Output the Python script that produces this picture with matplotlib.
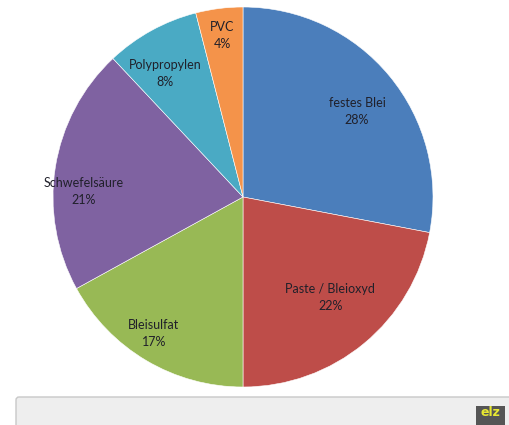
import matplotlib
matplotlib.use("Agg")
import matplotlib.pyplot as plt
from matplotlib.patches import FancyBboxPatch, Rectangle

labels = ["festes Blei", "Paste / Bleioxyd", "Bleisulfat", "Schwefelsäure", "Polypropylen", "PVC"]
shares = [28, 22, 17, 21, 8, 4]
colors = ["#4b7ebb", "#be4d49", "#98b955", "#7f62a1", "#4aaac4", "#f4934a"]

# label anchor points in pie-radius units (Excel "best fit" placement)
LABEL_POS = [(0.60, 0.45), (0.46, -0.53), (-0.47, -0.72),
             (-0.84, 0.03), (-0.41, 0.65), (-0.11, 0.85)]

W, H = 509, 425
fig = plt.figure(figsize=(W / 100, H / 100), dpi=100)
fig.patch.set_facecolor("white")

cx, cy, R = 243, 228, 190
ax = fig.add_axes([(cx - R) / W, (cy - R) / H, 2 * R / W, 2 * R / H])
wedges, _ = ax.pie(shares, colors=colors, startangle=90, counterclock=False,
                   radius=1.0, wedgeprops=dict(edgecolor="white", linewidth=0.4))
ax.set_xlim(-1, 1)
ax.set_ylim(-1, 1)
ax.set_aspect("equal")
ax.axis("off")

for lab, s, (lx, ly) in zip(labels, shares, LABEL_POS):
    ax.text(lx, ly, f"{lab}\n{s}%", ha="center", va="center",
            fontsize=9, family="Lato", color="#20202a", linespacing=1.5)

# bottom toolbar strip
bx = fig.add_axes([0, 0, 1, 1], facecolor="none")
bx.set_xlim(0, W)
bx.set_ylim(H, 0)
bx.axis("off")
bx.add_patch(FancyBboxPatch((16, 397), 500, 40, boxstyle="round,pad=0,rounding_size=3",
                            facecolor="#eeeeee", edgecolor="#c8c8c8", linewidth=1.0))
bx.add_patch(Rectangle((476, 406), 29, 19, facecolor="#555555", edgecolor="none"))
bx.text(490.5, 413, "elz", ha="center", va="center", fontsize=9, fontweight="bold",
        color="#e8e832", family="DejaVu Sans")

fig.savefig("out.png", dpi=100)
